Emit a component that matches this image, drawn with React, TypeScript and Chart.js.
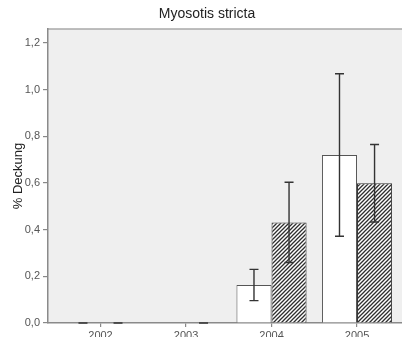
import React, { useEffect, useRef } from "react";
import { Chart, registerables } from "chart.js";

Chart.register(...registerables);

// Survey years and mean cover (%) per treatment, with error half-widths
const years = [2002, 2003, 2004, 2005];
const openValues: (number | null)[] = [0, null, 0.163, 0.72];
const openErrors: (number | null)[] = [0, null, 0.067, 0.348];
const hatchedValues: (number | null)[] = [0, 0, 0.431, 0.599];
const hatchedErrors: (number | null)[] = [0, 0, 0.172, 0.166];
const yTicks = [0, 0.2, 0.4, 0.6, 0.8, 1.0, 1.2];

const TITLE = "Myosotis stricta";
const Y_TITLE = "% Deckung";
const FONT = "'Liberation Sans', Arial, sans-serif";

function makeHatch(): CanvasPattern | string {
  const s = 4;
  const c = document.createElement("canvas");
  c.width = s;
  c.height = s;
  const g = c.getContext("2d");
  if (!g) return "#888";
  g.fillStyle = "#ffffff";
  g.fillRect(0, 0, s, s);
  g.strokeStyle = "#2e2e2e";
  g.lineWidth = 1.3;
  g.beginPath();
  g.moveTo(0, s);
  g.lineTo(s, 0);
  g.moveTo(-1, 1);
  g.lineTo(1, -1);
  g.moveTo(s - 1, s + 1);
  g.lineTo(s + 1, s - 1);
  g.stroke();
  const p = g.createPattern(c, "repeat");
  return p || "#888";
}

const errorArrays = [openErrors, hatchedErrors];

const frame = {
  id: "frame",
  beforeDraw(chart: any) {
    const { ctx, chartArea: a } = chart;
    ctx.save();
    ctx.fillStyle = "#efefef";
    ctx.fillRect(a.left, a.top, a.right - a.left, a.bottom - a.top);
    ctx.strokeStyle = "#a8a8a8";
    ctx.lineWidth = 1.5;
    ctx.beginPath();
    ctx.moveTo(a.left, a.top);
    ctx.lineTo(a.right, a.top);
    ctx.stroke();
    ctx.restore();
  },
  afterDraw(chart: any) {
    const { ctx, chartArea: a } = chart;
    ctx.save();
    ctx.fillStyle = "#222222";
    ctx.font = `14px ${FONT}`;
    ctx.textAlign = "center";
    ctx.textBaseline = "alphabetic";
    ctx.fillText(TITLE, 207, 18);
    ctx.font = `13px ${FONT}`;
    ctx.translate(18.5, (a.top + a.bottom) / 2);
    ctx.rotate(-Math.PI / 2);
    ctx.textBaseline = "middle";
    ctx.fillText(Y_TITLE, 0, 0);
    ctx.restore();
  },
};

const errorBars = {
  id: "errorBars",
  afterDatasetsDraw(chart: any) {
    const { ctx } = chart;
    const yScale = chart.scales.y;
    ctx.save();
    ctx.strokeStyle = "#333333";
    ctx.lineWidth = 1.4;
    chart.data.datasets.forEach((ds: any, di: number) => {
      const meta = chart.getDatasetMeta(di);
      const errs = errorArrays[di];
      meta.data.forEach((el: any, i: number) => {
        const raw = ds.data[i];
        const e = errs[i];
        if (!raw || raw.y == null || e == null) return;
        const x = el.x;
        const top = yScale.getPixelForValue(raw.y + e);
        const bot = yScale.getPixelForValue(raw.y - e);
        const cap = 4.5;
        ctx.beginPath();
        ctx.moveTo(x, top);
        ctx.lineTo(x, bot);
        ctx.moveTo(x - cap, top);
        ctx.lineTo(x + cap, top);
        ctx.moveTo(x - cap, bot);
        ctx.lineTo(x + cap, bot);
        ctx.stroke();
      });
    });
    ctx.restore();
  },
};

export default function App() {
  const ref = useRef<HTMLCanvasElement>(null);

  useEffect(() => {
    if (!ref.current) return;
    const hatch = makeHatch();
    const toPoints = (vals: (number | null)[]) =>
      years.map((yr, i) => ({ x: yr, y: vals[i] }));
    const bw = (c: any) => (c.raw && c.raw.y > 0 ? 1 : 0);

    const chart = new Chart(ref.current, {
      type: "bar",
      data: {
        datasets: [
          {
            data: toPoints(openValues) as any,
            backgroundColor: "#ffffff",
            borderColor: "#555555",
            borderWidth: bw as any,
          },
          {
            data: toPoints(hatchedValues) as any,
            backgroundColor: hatch as any,
            borderColor: "#333333",
            borderWidth: bw as any,
          },
        ],
      },
      options: {
        animation: false,
        responsive: false,
        devicePixelRatio: 1,
        layout: { padding: { top: 29, left: 0, right: 0, bottom: 0 } },
        categoryPercentage: 0.82,
        barPercentage: 1,
        plugins: {
          legend: { display: false },
          title: { display: false },
          tooltip: { enabled: false },
        },
        scales: {
          x: {
            type: "linear",
            min: 2001.386,
            max: 2005.526,
            offset: false,
            grid: {
              offset: false,
              drawOnChartArea: false,
              drawTicks: true,
              tickLength: 4,
              color: "#888888",
              lineWidth: 1.2,
            },
            border: { color: "#8a8a8a", width: 1.5 },
            ticks: {
              stepSize: 1,
              includeBounds: false,
              padding: 2,
              color: "#555555",
              font: { family: FONT, size: 11 },
              callback: (v: any) => String(v),
            },
            afterBuildTicks: (s: any) => {
              s.ticks = years.map((v) => ({ value: v }));
            },
            afterFit: (s: any) => {
              s.height = 27;
            },
          },
          y: {
            min: 0,
            max: 1.26,
            grid: {
              drawOnChartArea: false,
              drawTicks: true,
              tickLength: 5,
              color: "#888888",
              lineWidth: 1.2,
            },
            border: { color: "#8a8a8a", width: 1.5 },
            ticks: {
              stepSize: 0.2,
              includeBounds: false,
              padding: 3,
              color: "#555555",
              font: { family: FONT, size: 11 },
              callback: (v: any) => Number(v).toFixed(1).replace(".", ","),
            },
            afterBuildTicks: (s: any) => {
              s.ticks = yTicks.map((v) => ({ value: v }));
            },
            afterFit: (s: any) => {
              s.width = 48;
            },
          },
        },
      } as any,
      plugins: [frame, errorBars],
    });
    return () => chart.destroy();
  }, []);

  return (
    <div
      style={{
        position: "fixed",
        left: 0,
        top: 0,
        width: 402,
        height: 337,
        overflow: "hidden",
        background: "#ffffff",
      }}
    >
      <canvas ref={ref} width={402} height={350} style={{ display: "block" }} />
    </div>
  );
}
